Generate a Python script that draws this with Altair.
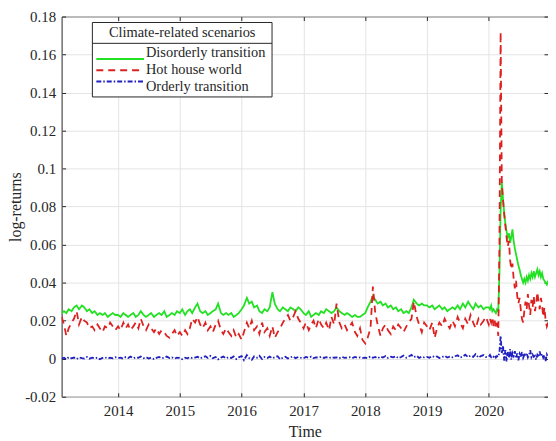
import altair as alt
import pandas as pd

scenarios = ["Disorderly transition", "Hot house world", "Orderly transition"]
colors = ["#22e022", "#dd2020", "#2020c0"]
dashes = [[1, 0], [7, 5], [5, 2, 1.5, 2]]
legend_title = "Climate-related scenarios"

# semi-monthly dates 2013-02 .. 2019-12, weekly dates for 2020
t_semi = pd.date_range("2013-02-01", "2019-12-31", freq="SMS")
t_week = pd.date_range("2020-01-01", periods=51, freq="7D")

green_2013 = [0.024, 0.025, 0.024, 0.026, 0.025, 0.027, 0.028, 0.026, 0.028, 0.027, 0.025,
              0.026, 0.024, 0.025, 0.023, 0.024, 0.023, 0.024, 0.022, 0.023, 0.024, 0.023]
green_2014 = [0.023, 0.022, 0.024, 0.023, 0.022, 0.023, 0.024, 0.022, 0.023, 0.025, 0.023, 0.022,
              0.023, 0.024, 0.022, 0.023, 0.024, 0.023, 0.025, 0.022, 0.023, 0.024, 0.023, 0.025]
green_2015 = [0.024, 0.026, 0.023, 0.025, 0.026, 0.024, 0.027, 0.029, 0.025, 0.024, 0.025, 0.023,
              0.024, 0.025, 0.026, 0.029, 0.024, 0.023, 0.024, 0.023, 0.024, 0.022, 0.023, 0.024]
green_2016 = [0.026, 0.028, 0.032, 0.029, 0.030, 0.027, 0.028, 0.025, 0.024, 0.026, 0.025, 0.027,
              0.035, 0.029, 0.026, 0.025, 0.027, 0.026, 0.025, 0.027, 0.026, 0.025, 0.027, 0.026]
green_2017 = [0.024, 0.023, 0.025, 0.022, 0.023, 0.024, 0.023, 0.025, 0.024, 0.026, 0.025, 0.024,
              0.025, 0.027, 0.025, 0.024, 0.023, 0.024, 0.023, 0.022, 0.023, 0.022, 0.022, 0.023]
green_2018 = [0.024, 0.027, 0.030, 0.033, 0.031, 0.029, 0.030, 0.028, 0.029, 0.027, 0.028, 0.026,
              0.027, 0.025, 0.026, 0.024, 0.025, 0.024, 0.027, 0.031, 0.029, 0.028, 0.029, 0.028]
green_2019 = [0.028, 0.027, 0.028, 0.026, 0.027, 0.028, 0.026, 0.027, 0.025, 0.026, 0.027, 0.026,
              0.028, 0.026, 0.029, 0.027, 0.030, 0.028, 0.026, 0.029, 0.027, 0.028, 0.026, 0.027]
green_2020 = [0.027, 0.026, 0.028, 0.025, 0.026, 0.025, 0.024, 0.026, 0.025, 0.045,
              0.078, 0.093, 0.084, 0.077, 0.071, 0.067, 0.064, 0.066, 0.061, 0.064,
              0.068, 0.062, 0.058, 0.055, 0.052, 0.049, 0.047, 0.044, 0.042, 0.040,
              0.042, 0.040, 0.043, 0.041, 0.044, 0.042, 0.045, 0.043, 0.046, 0.043,
              0.045, 0.047, 0.044, 0.046, 0.043, 0.045, 0.042, 0.041, 0.040, 0.039,
              0.041]

red_2013 = [0.022, 0.018, 0.012, 0.016, 0.019, 0.021, 0.025, 0.018, 0.022, 0.020, 0.019,
            0.016, 0.017, 0.015, 0.018, 0.016, 0.014, 0.017, 0.016, 0.019, 0.017, 0.015]
red_2014 = [0.017, 0.015, 0.019, 0.016, 0.018, 0.015, 0.017, 0.019, 0.016, 0.021, 0.017, 0.015,
            0.018, 0.016, 0.014, 0.016, 0.013, 0.015, 0.014, 0.012, 0.011, 0.013, 0.015, 0.012]
red_2015 = [0.014, 0.012, 0.015, 0.013, 0.016, 0.021, 0.019, 0.022, 0.018, 0.016, 0.019, 0.015,
            0.017, 0.014, 0.018, 0.020, 0.015, 0.013, 0.016, 0.014, 0.012, 0.015, 0.011, 0.013]
red_2016 = [0.010, 0.014, 0.019, 0.016, 0.020, 0.015, 0.017, 0.013, 0.019, 0.014, 0.016, 0.012,
            0.017, 0.011, 0.014, 0.016, 0.019, 0.021, 0.023, 0.020, 0.022, 0.025, 0.021, 0.019]
red_2017 = [0.016, 0.019, 0.015, 0.018, 0.020, 0.016, 0.021, 0.018, 0.016, 0.019, 0.015, 0.022,
            0.018, 0.029, 0.019, 0.016, 0.018, 0.015, 0.017, 0.019, 0.014, 0.012, 0.016, 0.010]
red_2018 = [0.008, 0.011, 0.016, 0.038, 0.024, 0.018, 0.012, 0.016, 0.018, 0.015, 0.013, 0.017,
            0.015, 0.018, 0.016, 0.014, 0.017, 0.019, 0.021, 0.030, 0.022, 0.018, 0.014, 0.019]
red_2019 = [0.017, 0.015, 0.019, 0.011, 0.016, 0.019, 0.017, 0.021, 0.018, 0.016, 0.020, 0.017,
            0.022, 0.019, 0.016, 0.021, 0.018, 0.023, 0.019, 0.016, 0.021, 0.018, 0.020, 0.022]
red_2020 = [0.018, 0.021, 0.019, 0.022, 0.017, 0.020, 0.016, 0.019, 0.012, 0.060,
            0.172, 0.092, 0.084, 0.076, 0.070, 0.064, 0.059, 0.062, 0.052, 0.047,
            0.050, 0.042, 0.037, 0.041, 0.033, 0.029, 0.032, 0.026, 0.021, 0.019,
            0.025, 0.030, 0.026, 0.034, 0.028, 0.023, 0.031, 0.027, 0.033, 0.025,
            0.029, 0.035, 0.030, 0.026, 0.032, 0.028, 0.022, 0.027, 0.020, 0.017,
            0.019]

blue_2013 = [0.0000, 0.0005, -0.0003, 0.0008, 0.0002, 0.0006, -0.0002, 0.0007, 0.0003, 0.0001, 0.0009,
             0.0000, 0.0005, 0.0002, 0.0006, -0.0003, 0.0004, 0.0007, 0.0001, 0.0005, 0.0002, 0.0008]
blue_2014 = [0.0003, 0.0006, 0.0000, 0.0009, 0.0004, 0.0011, 0.0002, 0.0007, 0.0005, 0.0012, 0.0003, 0.0008,
             0.0001, 0.0006, -0.0002, 0.0004, 0.0009, 0.0002, 0.0005, 0.0011, 0.0003, 0.0007, 0.0000, 0.0006]
blue_2015 = [0.0004, -0.0003, 0.0005, 0.0002, 0.0008, 0.0003, 0.0006, 0.0010, 0.0002, 0.0007, 0.0013, 0.0004,
             0.0015, 0.0003, 0.0009, -0.0004, 0.0006, 0.0011, 0.0002, 0.0008, 0.0004, 0.0012, -0.0002, 0.0007]
blue_2016 = [0.0014, -0.0008, 0.0019, 0.0003, -0.0006, 0.0012, 0.0005, 0.0015, -0.0002, 0.0009, 0.0004, 0.0011,
             0.0002, 0.0008, 0.0013, -0.0003, 0.0006, 0.0010, 0.0001, 0.0007, 0.0012, 0.0003, 0.0009, 0.0005]
blue_2017 = [0.0002, 0.0009, 0.0005, 0.0011, 0.0003, 0.0007, 0.0006, 0.0010, 0.0004, 0.0008, 0.0003, 0.0009,
             0.0005, 0.0007, 0.0002, 0.0010, 0.0004, 0.0006, 0.0008, 0.0003, 0.0009, 0.0005, 0.0007, 0.0004]
blue_2018 = [0.0006, 0.0003, 0.0012, 0.0005, 0.0009, 0.0002, 0.0011, 0.0006, 0.0014, 0.0004, 0.0010, 0.0007,
             0.0013, 0.0003, 0.0009, 0.0016, 0.0005, 0.0012, 0.0020, 0.0008, 0.0015, 0.0004, 0.0011, 0.0007]
blue_2019 = [0.0010, 0.0005, 0.0014, 0.0008, 0.0012, 0.0004, 0.0009, 0.0015, 0.0006, 0.0011, 0.0007, 0.0013,
             0.0018, 0.0005, 0.0012, 0.0021, 0.0008, 0.0016, 0.0010, 0.0024, 0.0006, 0.0014, 0.0019, 0.0009]
blue_2020 = [0.0012, 0.0020, 0.0008, 0.0015, 0.0010, 0.0018, 0.0006, 0.0014, 0.0010, 0.0035,
             0.0120, 0.0030, 0.0070, -0.0010, 0.0045, -0.0015, 0.0035, 0.0005, 0.0050, -0.0005,
             0.0030, 0.0015, 0.0040, 0.0002, 0.0028, -0.0008, 0.0025, 0.0010, 0.0035, 0.0004,
             0.0020, 0.0012, 0.0030, 0.0006, 0.0018, 0.0045, 0.0008, 0.0022, 0.0010, 0.0015,
             -0.0005, 0.0020, 0.0008, 0.0038, 0.0012, 0.0025, 0.0005, 0.0018, -0.0012, 0.0022,
             0.0008]

y_ticks = [-0.02, 0, 0.02, 0.04, 0.06, 0.08, 0.1, 0.12, 0.14, 0.16, 0.18]
x_tick_years = [2014, 2015, 2016, 2017, 2018, 2019, 2020]

series = {
    "Disorderly transition": green_2013 + green_2014 + green_2015 + green_2016 + green_2017 + green_2018 + green_2019 + green_2020,
    "Hot house world": red_2013 + red_2014 + red_2015 + red_2016 + red_2017 + red_2018 + red_2019 + red_2020,
    "Orderly transition": blue_2013 + blue_2014 + blue_2015 + blue_2016 + blue_2017 + blue_2018 + blue_2019 + blue_2020,
}
dates = list(t_semi) + list(t_week)

frames = []
for name in scenarios:
    vals = series[name]
    n = min(len(vals), len(dates))
    frames.append(pd.DataFrame({"date": dates[:n], "value": vals[:n], "scenario": name}))
df = pd.concat(frames, ignore_index=True)

FONT = "Liberation Serif"
TXT = "#262626"

color_scale = alt.Scale(domain=scenarios, range=colors)
dash_scale = alt.Scale(domain=scenarios, range=dashes)
x_scale = alt.Scale(domain=[alt.DateTime(year=2013, month=2, date=1),
                            alt.DateTime(year=2020, month=12, date=16)])
y_scale = alt.Scale(domain=[-0.02, 0.18], nice=False, zero=False)
x_vals = [alt.DateTime(year=y, month=1, date=1) for y in x_tick_years]

lines = alt.Chart(df).mark_line(strokeWidth=1.8, clip=True).encode(
    x=alt.X("date:T", scale=x_scale,
            axis=alt.Axis(values=x_vals, format="%Y", title="Time",
                          labelPadding=7, titlePadding=5)),
    y=alt.Y("value:Q", scale=y_scale,
            axis=alt.Axis(values=y_ticks, labelExpr="'' + datum.value",
                          title="log-returns", labelPadding=6, titlePadding=1)),
    color=alt.Color("scenario:N", sort=scenarios, scale=color_scale, legend=None),
    strokeDash=alt.StrokeDash("scenario:N", sort=scenarios, scale=dash_scale, legend=None),
)

# inward tick marks on all four sides (MATLAB box style)
tick_axis = dict(labels=False, grid=False, domain=False, ticks=True, tickSize=4,
                 tickColor=TXT, tickWidth=1, title=None, offset=-4)
tick_df = df.iloc[:2]
ticks_tr = alt.Chart(tick_df).mark_point(opacity=0).encode(
    x=alt.X("date:T", scale=x_scale, axis=alt.Axis(values=x_vals, orient="top", **tick_axis)),
    y=alt.Y("value:Q", scale=y_scale, axis=alt.Axis(values=y_ticks, orient="right", **tick_axis)),
)
ticks_bl = alt.Chart(tick_df).mark_point(opacity=0).encode(
    x=alt.X("date:T", scale=x_scale, axis=alt.Axis(values=x_vals, orient="bottom", **tick_axis)),
    y=alt.Y("value:Q", scale=y_scale, axis=alt.Axis(values=y_ticks, orient="left", **tick_axis)),
)

# legend box (drawn as marks, MATLAB-style with title separator)
box_df = pd.DataFrame({"k": [0]})
box = alt.Chart(box_df).mark_rect(fill="white", stroke=TXT, strokeWidth=1).encode(
    x=alt.value(31), x2=alt.value(212), y=alt.value(6), y2=alt.value(81)
)
sep = alt.Chart(box_df).mark_rule(color=TXT, strokeWidth=1).encode(
    x=alt.value(31), x2=alt.value(212), y=alt.value(27)
)
title_txt = alt.Chart(box_df).mark_text(
    font=FONT, fontSize=14.5, color=TXT, align="center", baseline="middle"
).encode(x=alt.value(121.5), y=alt.value(16.5), text=alt.value(legend_title))

leg_df = pd.DataFrame({"scenario": scenarios})
leg_y = alt.Y("scenario:N", sort=scenarios,
              scale=alt.Scale(domain=scenarios, range=[37, 71], padding=0), axis=None)
leg_sym = alt.Chart(leg_df).mark_rule(strokeWidth=2).encode(
    x=alt.value(35), x2=alt.value(83), y=leg_y,
    color=alt.Color("scenario:N", sort=scenarios, scale=color_scale, legend=None),
    strokeDash=alt.StrokeDash("scenario:N", sort=scenarios, scale=dash_scale, legend=None),
)
leg_lab = alt.Chart(leg_df).mark_text(
    font=FONT, fontSize=14.5, color=TXT, align="left", baseline="middle"
).encode(x=alt.value(85), y=leg_y, text="scenario:N")

chart = alt.layer(lines, ticks_tr, ticks_bl, box, sep, title_txt, leg_sym, leg_lab).resolve_scale(
    y="independent"
).resolve_axis(
    x="independent", y="independent"
).properties(
    width=490, height=383,
    autosize=alt.AutoSizeParams(type="none"),
    padding={"left": 54, "top": 7, "right": 0, "bottom": 43},
).configure_view(
    stroke=TXT, strokeWidth=1
).configure_axis(
    grid=True, gridColor="#e4e4e4", ticks=False, domain=False,
    labelFont=FONT, labelFontSize=15, labelColor=TXT,
    titleFont=FONT, titleFontSize=16, titleFontWeight="normal", titleColor=TXT,
)

chart.save("out.html", embed_options={"renderer": "svg", "actions": False})
